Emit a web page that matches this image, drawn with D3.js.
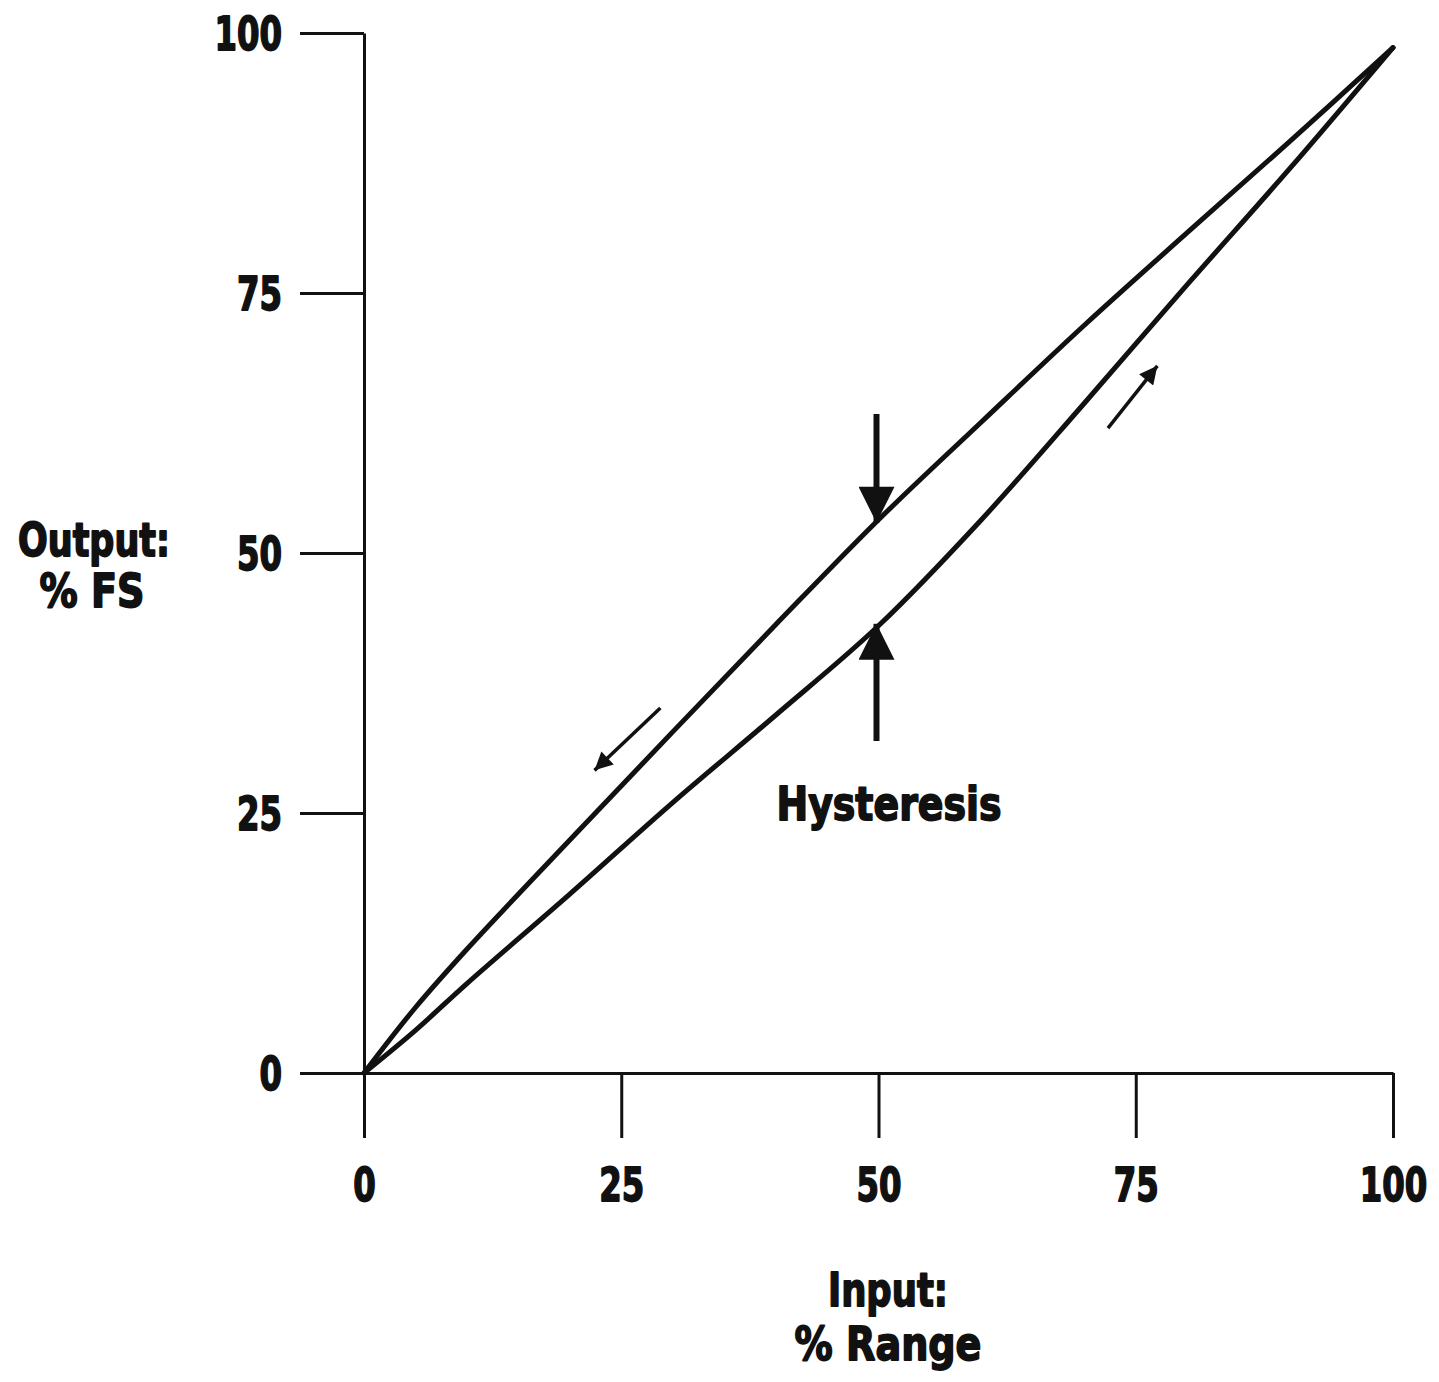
<!DOCTYPE html>
<html>
<head>
<meta charset="utf-8">
<script src="https://cdn.jsdelivr.net/npm/d3@7"></script>
<style>
  html, body { margin: 0; padding: 0; background: #fff; }
  svg text { font-family: "DejaVu Sans", "Liberation Sans", sans-serif; font-weight: bold; fill: #111; stroke: #111; stroke-width: 1.8px; stroke-linejoin: round; }
</style>
</head>
<body>
<svg id="chart" width="1439" height="1382"></svg>
<script>
// Input (% of range) sample positions
const inputPct = [0, 5, 10, 20, 30, 40, 50, 60, 70, 80, 90, 100];
// Output (% FS) while input is decreasing (upper branch)
const outputDown = [0, 6.3, 11.9, 22.4, 32.8, 43.1, 53.2, 62.6, 71.9, 80.8, 89.6, 98.6];
// Output (% FS) while input is increasing (lower branch)
const outputUp = [0, 4.1, 8.6, 17.2, 26.0, 34.4, 43.0, 53.2, 64.4, 75.8, 87.0, 98.6];

const xTicks = [0, 25, 50, 75, 100];
const yTicks = [0, 25, 50, 75, 100];

// Direction markers along each branch: [x0, y0, x1, y1] in data units
const dirDown = [28.8, 35.1, 22.4, 29.1];
const dirUp = [72.3, 62.0, 77.1, 68.0];
const hysteresisAt = 50;

const svg = d3.select("#chart");
const x = d3.scaleLinear().domain([0, 100]).range([364, 1393]);
const y = d3.scaleLinear().domain([0, 100]).range([1073, 33]);

// Condensed look: squeeze each label to a fixed advance per character
function squeeze(sel, perChar) {
  sel.attr("textLength", function () { return this.textContent.length * perChar; })
     .attr("lengthAdjust", "spacingAndGlyphs");
}

// Axes
const xAxis = d3.axisBottom(x).tickValues(xTicks).tickSizeInner(65).tickSizeOuter(0).tickPadding(30);
const yAxis = d3.axisLeft(y).tickValues(yTicks).tickSizeInner(64).tickSizeOuter(0).tickPadding(18);

const gx = svg.append("g").attr("transform", `translate(0,${y(0)})`).call(xAxis);
const gy = svg.append("g").attr("transform", `translate(${x(0)},0)`).call(yAxis);

[gx, gy].forEach(g => {
  g.select(".domain").attr("stroke", "#111").attr("stroke-width", 3);
  g.selectAll(".tick line").attr("stroke", "#111").attr("stroke-width", 3);
  g.selectAll(".tick text").attr("font-size", 46).attr("fill", "#111")
    .attr("font-family", null).call(squeeze, 22.5);
});
gx.selectAll(".tick text").attr("dy", "0.71em");
gy.selectAll(".tick text").attr("dy", "0.36em");

// Branch curves
const line = d3.line()
  .x((d, i) => x(inputPct[i]))
  .y(d => y(d))
  .curve(d3.curveCatmullRom.alpha(0.5));

[outputDown, outputUp].forEach(series => {
  svg.append("path").datum(series).attr("d", line)
    .attr("fill", "none").attr("stroke", "#111").attr("stroke-width", 5)
    .attr("stroke-linejoin", "round").attr("stroke-linecap", "round");
});

// Arrow heads
const defs = svg.append("defs");
defs.append("marker").attr("id", "bigHead").attr("viewBox", "0 0 10 10")
  .attr("refX", 10).attr("refY", 5).attr("markerUnits", "userSpaceOnUse")
  .attr("markerWidth", 44).attr("markerHeight", 36).attr("orient", "auto")
  .append("path").attr("d", "M0,0 L10,5 L0,10 Z").attr("fill", "#111");
defs.append("marker").attr("id", "smallHead").attr("viewBox", "0 0 10 10")
  .attr("refX", 10).attr("refY", 5).attr("markerUnits", "userSpaceOnUse")
  .attr("markerWidth", 22).attr("markerHeight", 18).attr("orient", "auto")
  .append("path").attr("d", "M0,0 L10,5 L0,10 Z").attr("fill", "#111");

const iMid = inputPct.indexOf(hysteresisAt);
// Down arrow onto the upper branch
svg.append("line")
  .attr("x1", x(hysteresisAt) - 2).attr("y1", 414)
  .attr("x2", x(hysteresisAt) - 2).attr("y2", y(outputDown[iMid]) + 3)
  .attr("stroke", "#111").attr("stroke-width", 6).attr("marker-end", "url(#bigHead)");
// Up arrow onto the lower branch
svg.append("line")
  .attr("x1", x(hysteresisAt) - 2).attr("y1", 741)
  .attr("x2", x(hysteresisAt) - 2).attr("y2", y(outputUp[iMid]) - 2)
  .attr("stroke", "#111").attr("stroke-width", 6).attr("marker-end", "url(#bigHead)");

// Direction markers
[dirDown, dirUp].forEach(a => {
  svg.append("line")
    .attr("x1", x(a[0])).attr("y1", y(a[1]))
    .attr("x2", x(a[2])).attr("y2", y(a[3]))
    .attr("stroke", "#111").attr("stroke-width", 3.5).attr("marker-end", "url(#smallHead)");
});

// Labels
svg.append("text").attr("x", 889).attr("y", 820).attr("text-anchor", "middle")
  .attr("font-size", 46).attr("textLength", 225).attr("lengthAdjust", "spacingAndGlyphs")
  .text("Hysteresis");

svg.append("text").attr("x", 94).attr("y", 556).attr("text-anchor", "middle")
  .attr("font-size", 46).attr("textLength", 152).attr("lengthAdjust", "spacingAndGlyphs")
  .text("Output:");
svg.append("text").attr("x", 92).attr("y", 607).attr("text-anchor", "middle")
  .attr("font-size", 46).attr("textLength", 105).attr("lengthAdjust", "spacingAndGlyphs")
  .text("% FS");

svg.append("text").attr("x", 888).attr("y", 1306).attr("text-anchor", "middle")
  .attr("font-size", 46).attr("textLength", 120).attr("lengthAdjust", "spacingAndGlyphs")
  .text("Input:");
svg.append("text").attr("x", 888).attr("y", 1360).attr("text-anchor", "middle")
  .attr("font-size", 46).attr("textLength", 187).attr("lengthAdjust", "spacingAndGlyphs")
  .text("% Range");
</script>
</body>
</html>
